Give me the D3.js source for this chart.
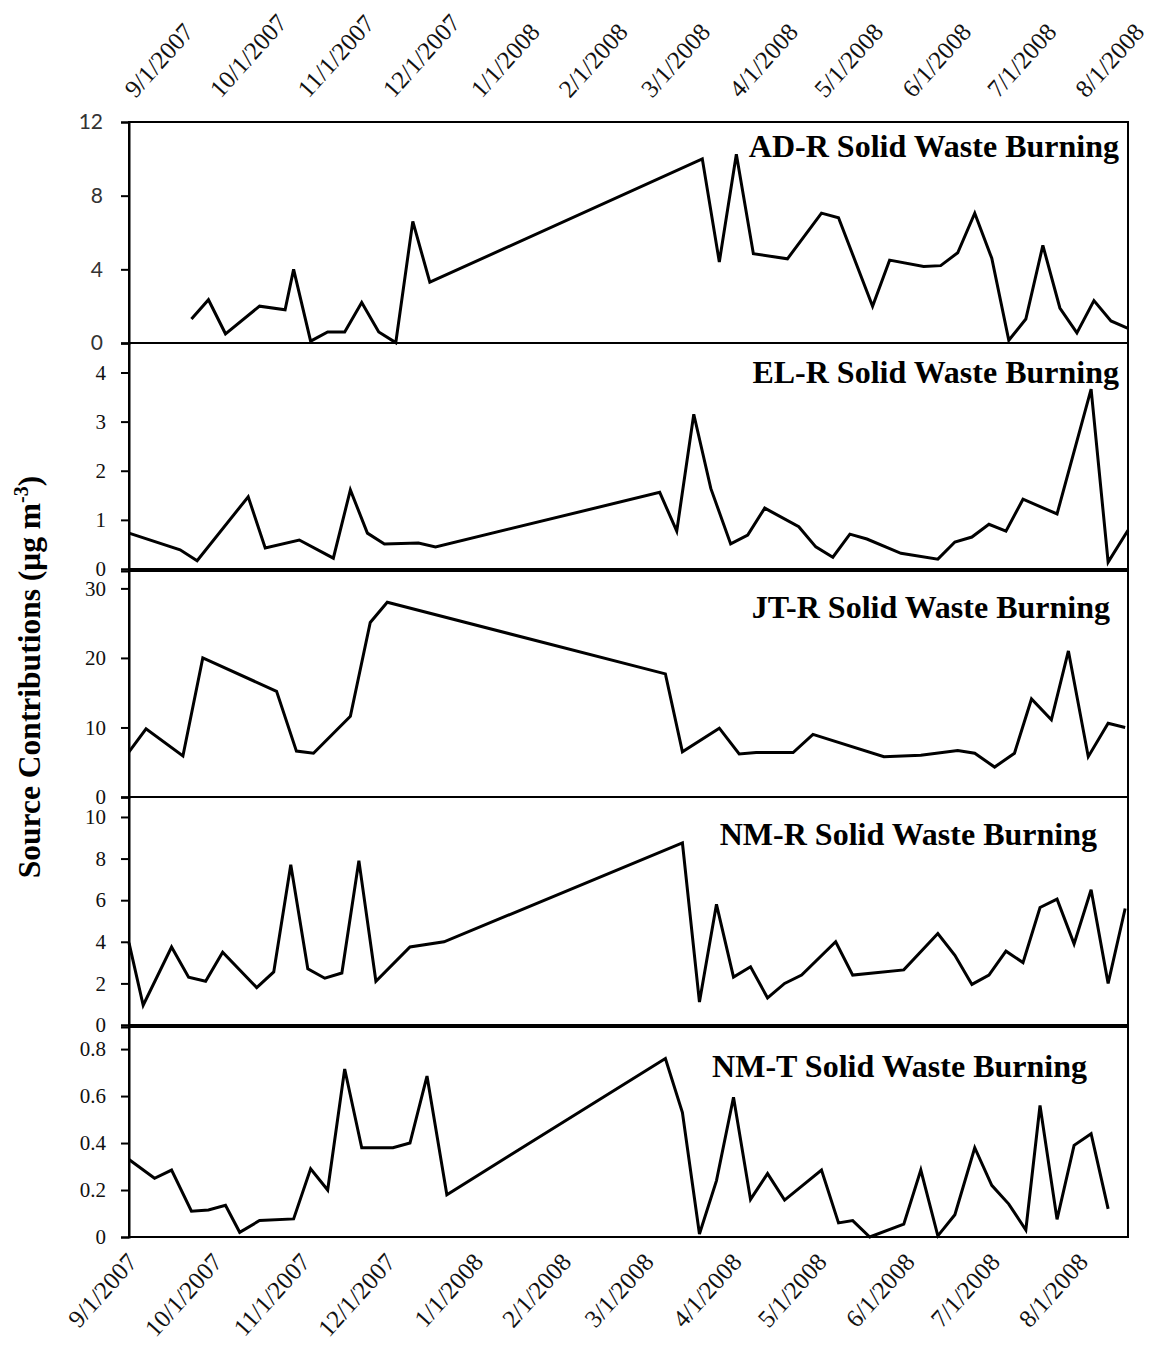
<!DOCTYPE html>
<html>
<head>
<meta charset="utf-8">
<script src="https://cdn.jsdelivr.net/npm/d3@7"></script>
<style>
  body { margin: 0; background: #fff; }
  svg { display: block; }
</style>
</head>
<body>
<svg id="chart" width="1156" height="1348"></svg>
<script>
// ---- Data: solid waste burning source contributions (µg m-3), Sep 2007 – Aug 2008 ----
const sites = ["AD-R", "EL-R", "JT-R", "NM-R", "NM-T"];
const panelTitles = sites.map(s => s + " Solid Waste Burning");

const adrDates = ["2007-09-23","2007-09-29","2007-10-05","2007-10-17","2007-10-26","2007-10-29","2007-11-04","2007-11-10","2007-11-16","2007-11-22","2007-11-28","2007-12-04","2007-12-10","2007-12-16","2008-03-21","2008-03-27","2008-04-02","2008-04-08","2008-04-20","2008-05-02","2008-05-08","2008-05-20","2008-05-26","2008-06-07","2008-06-13","2008-06-19","2008-06-25","2008-07-01","2008-07-07","2008-07-13","2008-07-19","2008-07-25","2008-07-31","2008-08-06","2008-08-12","2008-08-18"];
const adrValues = [1.3,2.35,0.5,2.0,1.8,4.0,0.1,0.6,0.6,2.2,0.6,0.02,6.6,3.3,10.0,4.4,10.25,4.85,4.57,7.05,6.8,2.0,4.5,4.15,4.2,4.9,7.05,4.6,0.15,1.3,5.3,1.9,0.55,2.3,1.2,0.8];

const elrDates = ["2007-09-01","2007-09-19","2007-09-25","2007-10-13","2007-10-19","2007-10-31","2007-11-12","2007-11-18","2007-11-24","2007-11-30","2007-12-12","2007-12-18","2008-03-06","2008-03-12","2008-03-18","2008-03-24","2008-03-31","2008-04-06","2008-04-12","2008-04-24","2008-04-30","2008-05-06","2008-05-12","2008-05-18","2008-05-30","2008-06-12","2008-06-18","2008-06-24","2008-06-30","2008-07-06","2008-07-12","2008-07-24","2008-08-05","2008-08-11","2008-08-18"];
const elrValues = [0.73,0.39,0.17,1.47,0.43,0.59,0.22,1.61,0.73,0.51,0.53,0.45,1.56,0.77,3.15,1.64,0.51,0.69,1.24,0.86,0.45,0.24,0.71,0.61,0.32,0.2,0.55,0.65,0.91,0.77,1.42,1.12,3.66,0.14,0.79];

const jtrDates = ["2007-09-01","2007-09-07","2007-09-20","2007-09-27","2007-10-23","2007-10-30","2007-11-05","2007-11-18","2007-11-25","2007-12-01","2008-03-08","2008-03-14","2008-03-27","2008-04-03","2008-04-09","2008-04-22","2008-04-29","2008-05-24","2008-06-06","2008-06-19","2008-06-25","2008-07-02","2008-07-09","2008-07-15","2008-07-22","2008-07-28","2008-08-04","2008-08-11","2008-08-17"];
const jtrValues = [6.5,9.8,5.9,20.0,15.2,6.6,6.3,11.6,25.1,28.0,17.7,6.5,9.9,6.2,6.4,6.4,9.0,5.8,6.0,6.7,6.3,4.3,6.3,14.1,11.1,21.0,5.8,10.6,10.0];

const nmrDates = ["2007-09-01","2007-09-06","2007-09-16","2007-09-22","2007-09-28","2007-10-04","2007-10-16","2007-10-22","2007-10-28","2007-11-03","2007-11-09","2007-11-15","2007-11-21","2007-11-27","2007-12-09","2007-12-21","2008-03-14","2008-03-20","2008-03-26","2008-04-01","2008-04-07","2008-04-13","2008-04-19","2008-04-25","2008-05-07","2008-05-13","2008-05-31","2008-06-12","2008-06-18","2008-06-24","2008-06-30","2008-07-06","2008-07-12","2008-07-18","2008-07-24","2008-07-30","2008-08-05","2008-08-11","2008-08-17"];
const nmrValues = [3.95,0.95,3.75,2.3,2.1,3.5,1.8,2.55,7.7,2.7,2.25,2.5,7.9,2.1,3.75,4.0,8.75,1.1,5.8,2.3,2.8,1.3,2.0,2.4,4.0,2.4,2.65,4.4,3.35,1.95,2.4,3.55,3.0,5.65,6.05,3.9,6.5,2.0,5.6];

const nmtDates = ["2007-09-01","2007-09-10","2007-09-16","2007-09-23","2007-09-29","2007-10-05","2007-10-10","2007-10-17","2007-10-29","2007-11-04","2007-11-10","2007-11-16","2007-11-22","2007-12-03","2007-12-09","2007-12-15","2007-12-22","2008-03-08","2008-03-14","2008-03-20","2008-03-26","2008-04-01","2008-04-07","2008-04-13","2008-04-19","2008-05-02","2008-05-08","2008-05-13","2008-05-19","2008-05-31","2008-06-06","2008-06-12","2008-06-18","2008-06-25","2008-07-01","2008-07-07","2008-07-13","2008-07-18","2008-07-24","2008-07-30","2008-08-05","2008-08-11"];
const nmtValues = [0.33,0.25,0.285,0.11,0.115,0.135,0.02,0.07,0.077,0.29,0.2,0.715,0.38,0.38,0.40,0.685,0.18,0.76,0.53,0.013,0.24,0.595,0.16,0.27,0.157,0.285,0.06,0.07,0.0,0.055,0.285,0.005,0.095,0.38,0.22,0.14,0.03,0.56,0.075,0.39,0.44,0.12];

const seriesDates = [adrDates, elrDates, jtrDates, nmrDates, nmtDates];
const seriesValues = [adrValues, elrValues, jtrValues, nmrValues, nmtValues];

// value-axis extents and tick values per panel
const yMaxima = [12, 4.6, 32.5, 10.96, 0.894];
const yTickValues = [[0,4,8,12],[0,1,2,3,4],[0,10,20,30],[0,2,4,6,8,10],[0,0.2,0.4,0.6,0.8]];

// time-axis extent and monthly tick dates
const timeStart = "2007-09-01";
const timeEnd = "2008-08-18";
const monthTicks = ["2007-09-01","2007-10-01","2007-11-01","2007-12-01","2008-01-01","2008-02-01","2008-03-01","2008-04-01","2008-05-01","2008-06-01","2008-07-01","2008-08-01"];

const yAxisTitle = "Source Contributions (\u03bcg m";
const yAxisSup = "-3";

// ---- Layout ----
const left = 129, right = 1128;
const serif = "'Liberation Serif', 'Times New Roman', serif";
const layout = [
  { top: 122, bottom: 343, titleX: 1119, titleY: 157, tickFont: "Lato, 'Open Sans', sans-serif", tickSize: 21, tickColor: "#333", pad: 18 },
  { top: 343, bottom: 569, titleX: 1119, titleY: 383, tickFont: serif, tickSize: 21, tickColor: "#111", pad: 15 },
  { top: 571, bottom: 797, titleX: 1110, titleY: 618, tickFont: serif, tickSize: 21, tickColor: "#111", pad: 15 },
  { top: 797, bottom: 1025, titleX: 1097, titleY: 845, tickFont: serif, tickSize: 21, tickColor: "#111", pad: 15 },
  { top: 1027, bottom: 1237, titleX: 1087, titleY: 1077, tickFont: serif, tickSize: 21, tickColor: "#111", pad: 15 }
];

const parse = d3.utcParse("%Y-%m-%d");
const fmt = d3.utcFormat("%-m/%-d/%Y");
const svg = d3.select("#chart");

const x = d3.scaleUtc()
  .domain([parse(timeStart), parse(timeEnd)])
  .range([left, right]);

// draw panels bottom-up so upper panels sit over the lower ones
const order = d3.range(sites.length).reverse();
order.forEach(i => {
  const L = layout[i];
  const g = svg.append("g").attr("class", "panel");
  const y = d3.scaleLinear().domain([0, yMaxima[i]]).range([L.bottom, L.top]);

  g.append("rect")
    .attr("x", left).attr("y", L.top)
    .attr("width", right - left).attr("height", L.bottom - L.top)
    .attr("fill", "#fff").attr("stroke", "#000").attr("stroke-width", 2);

  const yAxis = d3.axisLeft(y)
    .tickValues(yTickValues[i])
    .tickSize(8)
    .tickPadding(L.pad)
    .tickFormat(d => d3.format("~g")(d));
  const ya = g.append("g").attr("transform", `translate(${left},0)`).call(yAxis);
  ya.select(".domain").attr("stroke", "#000").attr("stroke-width", 2);
  ya.selectAll(".tick line").attr("stroke", "#000").attr("stroke-width", 2);
  ya.selectAll(".tick text")
    .attr("font-family", L.tickFont)
    .attr("font-size", L.tickSize)
    .attr("fill", L.tickColor);

  const pts = seriesDates[i].map((d, k) => ({ date: parse(d), value: seriesValues[i][k] }));
  const line = d3.line().x(d => x(d.date)).y(d => y(d.value));
  g.append("path")
    .datum(pts)
    .attr("d", line)
    .attr("fill", "none")
    .attr("stroke", "#000")
    .attr("stroke-width", 3)
    .attr("stroke-linejoin", "miter");

  g.append("text")
    .attr("x", L.titleX).attr("y", L.titleY)
    .attr("text-anchor", "end")
    .attr("font-family", serif)
    .attr("font-weight", "bold")
    .attr("font-size", 32)
    .attr("fill", "#000")
    .text(panelTitles[i]);
});

// monthly date labels above the top panel and below the bottom panel
const tickDates = monthTicks.map(parse);
const labelSize = 25, labelAngle = -48;

const topAxis = d3.axisTop(x).tickValues(tickDates).tickSize(0).tickFormat(fmt);
const ta = svg.append("g").attr("transform", `translate(0,${layout[0].top})`).call(topAxis);
ta.select(".domain").remove();
ta.selectAll(".tick text")
  .attr("font-family", serif).attr("font-size", labelSize).attr("fill", "#111")
  .attr("text-anchor", "start")
  .attr("x", 6).attr("y", -23).attr("dy", 0)
  .attr("transform", `rotate(${labelAngle}, 6, -23)`);

const bottomAxis = d3.axisBottom(x).tickValues(tickDates).tickSize(0).tickFormat(fmt);
const ba = svg.append("g").attr("transform", `translate(0,${layout[4].bottom})`).call(bottomAxis);
ba.select(".domain").remove();
ba.selectAll(".tick text")
  .attr("font-family", serif).attr("font-size", labelSize).attr("fill", "#111")
  .attr("text-anchor", "end")
  .attr("x", 9).attr("y", 26).attr("dy", 0)
  .attr("transform", `rotate(${labelAngle}, 9, 26)`);

// shared value-axis title
const yt = svg.append("text")
  .attr("transform", "translate(40,677) rotate(-90)")
  .attr("text-anchor", "middle")
  .attr("font-family", serif)
  .attr("font-weight", "bold")
  .attr("font-size", 31.5)
  .attr("fill", "#000");
yt.append("tspan").text(yAxisTitle);
yt.append("tspan").attr("dy", -12).attr("font-size", 20).text(yAxisSup);
yt.append("tspan").attr("dy", 12).text(")");
</script>
</body>
</html>
